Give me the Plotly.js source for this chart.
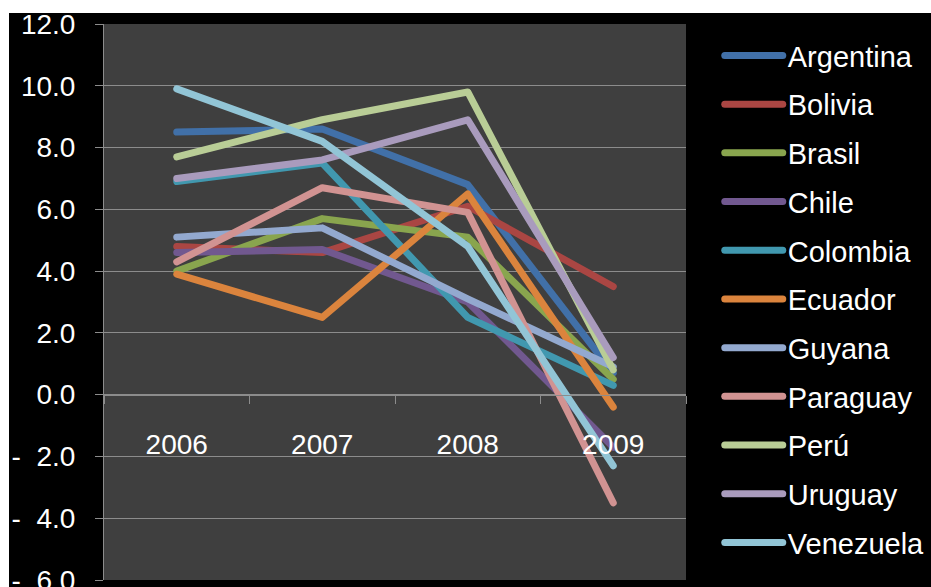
<!DOCTYPE html>
<html>
<head>
<meta charset="utf-8">
<script src="https://cdn.plot.ly/plotly-3.0.1.min.js"></script>
<style>
  html, body { margin: 0; padding: 0; background: #ffffff; overflow: hidden; }
  #chart { position: absolute; left: 9px; top: 13px; width: 922px; height: 574px; }
  .scatterlayer .js-line { stroke-linecap: round; stroke-linejoin: round; }
  .legend .legendlines path { stroke-linecap: round; }
</style>
</head>
<body>
<div id="chart"></div>
<script>
const years = ['2006', '2007', '2008', '2009'];
const countries = ['Argentina', 'Bolivia', 'Brasil', 'Chile', 'Colombia', 'Ecuador',
                   'Guyana', 'Paraguay', 'Perú', 'Uruguay', 'Venezuela'];
const argentina = [8.5, 8.6, 6.8, 0.7];
const bolivia   = [4.8, 4.6, 6.1, 3.5];
const brasil    = [4.0, 5.7, 5.1, 0.5];
const chile     = [4.6, 4.7, 3.0, -1.7];
const colombia  = [6.9, 7.5, 2.5, 0.3];
const ecuador   = [3.9, 2.5, 6.5, -0.4];
const guyana    = [5.1, 5.4, 3.1, 0.9];
const paraguay  = [4.3, 6.7, 5.9, -3.5];
const peru      = [7.7, 8.9, 9.8, 0.8];
const uruguay   = [7.0, 7.6, 8.9, 1.2];
const venezuela = [9.9, 8.2, 4.8, -2.3];
const seriesValues = [argentina, bolivia, brasil, chile, colombia, ecuador,
                      guyana, paraguay, peru, uruguay, venezuela];
const colors = ['#4170A8', '#AA4643', '#89A54E', '#71588F', '#4198AF', '#DB843D',
                '#93A9CF', '#D19392', '#B9CD96', '#A99BBD', '#92C5D6'];
const yTickVals = [-6, -4, -2, 0, 2, 4, 6, 8, 10, 12];
const yTickText = ['-\u00A0\u00A06.0', '-\u00A0\u00A04.0', '-\u00A0\u00A02.0', '0.0', '2.0',
                   '4.0', '6.0', '8.0', '10.0', '12.0'];
const yRange = [-6, 12];

const font = 'Liberation Sans, Arial, sans-serif';

const traces = countries.map((name, i) => ({
  type: 'scatter',
  mode: 'lines',
  name: name,
  x: years,
  y: seriesValues[i],
  legendgroup: 'g' + i,
  line: { color: colors[i], width: 7 },
  hoverinfo: 'skip'
}));

const layout = {
  width: 922,
  height: 574,
  paper_bgcolor: '#000000',
  plot_bgcolor: '#3f3f3f',
  margin: { l: 95, r: 245, t: 11, b: 7, autoexpand: false },
  font: { family: font, color: '#ffffff', size: 28 },
  showlegend: true,
  legend: {
    x: 1.058, xanchor: 'left',
    y: 0.989, yanchor: 'top',
    bgcolor: 'rgba(0,0,0,0)',
    font: { family: font, size: 29, color: '#ffffff' },
    tracegroupgap: 8,
    itemwidth: 58,
    traceorder: 'grouped'
  },
  xaxis: {
    type: 'category',
    range: [-0.5, 3.5],
    anchor: 'free',
    position: (0 - yRange[0]) / (yRange[1] - yRange[0]),
    showgrid: false,
    zeroline: false,
    showline: true,
    linecolor: '#8c8c8c',
    linewidth: 1,
    ticks: 'outside',
    tickson: 'boundaries',
    ticklen: 8,
    tickcolor: '#8c8c8c',
    ticklabelstandoff: 25,
    tickfont: { family: font, size: 28, color: '#ffffff' },
    fixedrange: true
  },
  yaxis: {
    range: yRange,
    tickmode: 'array',
    tickvals: yTickVals,
    ticktext: yTickText,
    showgrid: true,
    gridcolor: '#8c8c8c',
    gridwidth: 1,
    zeroline: false,
    showline: true,
    linecolor: '#8c8c8c',
    ticks: 'outside',
    ticklen: 8,
    tickcolor: '#8c8c8c',
    ticklabelstandoff: 14,
    ticklabeloverflow: 'allow',
    tickfont: { family: font, size: 28, color: '#ffffff' },
    fixedrange: true
  }
};

Plotly.newPlot('chart', traces, layout, { displayModeBar: false, staticPlot: true });
</script>
</body>
</html>
